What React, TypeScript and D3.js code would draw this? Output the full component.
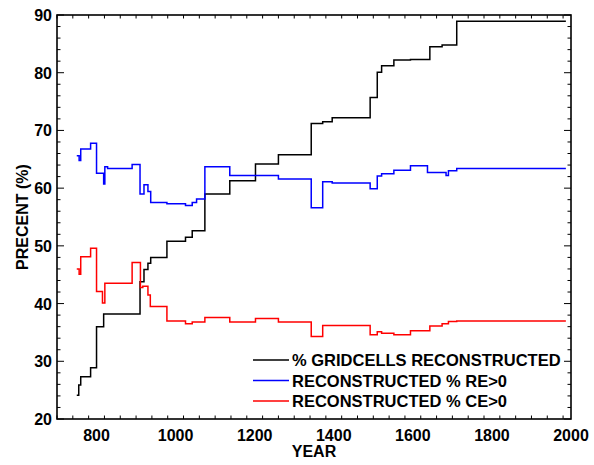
import React, { useEffect, useRef } from 'react';
import * as d3 from 'd3';

// step series: [year, percent], each value holds until the next year
const gridcells: [number, number][] = [
  [750, 24.1], [755, 25.9], [760, 27.3], [785, 28.9], [800, 36.0], [818, 38.2],
  [910, 43.8], [920, 45.9], [930, 47.0], [937, 48.0], [978, 50.8], [1025, 51.5],
  [1042, 52.6], [1074, 59.0], [1137, 61.3], [1202, 64.2], [1260, 65.8], [1343, 71.2],
  [1372, 71.5], [1396, 72.2], [1492, 75.7], [1510, 80.1], [1521, 81.2], [1552, 82.2],
  [1594, 82.3], [1643, 84.5], [1674, 84.8], [1711, 88.9], [1987, 88.9],
];

const reSkill: [number, number][] = [
  [750, 65.6], [756, 64.8], [760, 66.8], [785, 67.8], [800, 62.6], [818, 60.7],
  [821, 63.7], [828, 63.4], [890, 64.1], [910, 59.0], [920, 60.6], [930, 59.4],
  [937, 57.5], [978, 57.3], [1025, 57.0], [1042, 57.5], [1053, 58.1], [1074, 63.7],
  [1137, 62.2], [1260, 61.6], [1343, 56.6], [1372, 61.1], [1396, 60.9], [1492, 59.9],
  [1510, 62.1], [1521, 62.5], [1552, 63.1], [1594, 63.9], [1637, 62.7], [1684, 62.2],
  [1690, 63.0], [1711, 63.4], [1987, 63.4],
];

const ceSkill: [number, number][] = [
  [750, 46.0], [756, 45.1], [760, 48.1], [785, 49.6], [800, 42.1], [815, 40.1],
  [821, 43.5], [890, 47.1], [911, 42.8], [917, 43.0], [930, 41.5], [936, 39.5],
  [978, 37.0], [1025, 36.5], [1042, 36.8], [1074, 37.6], [1137, 36.8], [1202, 37.4],
  [1260, 36.8], [1343, 34.3], [1372, 36.2], [1492, 34.6], [1510, 35.1], [1521, 34.85],
  [1552, 34.6], [1594, 35.3], [1643, 36.1], [1674, 36.5], [1690, 36.9], [1711, 37.0],
  [1987, 37.0],
];

const seriesNames = ['% GRIDCELLS RECONSTRUCTED', 'RECONSTRUCTED % RE>0', 'RECONSTRUCTED % CE>0'];
const seriesColors = ['#000000', '#0000ff', '#ff0000'];
const xTickLabels = [800, 1000, 1200, 1400, 1600, 1800, 2000];
const yTickLabels = [20, 30, 40, 50, 60, 70, 80, 90];

const App = () => {
  const svgRef = useRef<SVGSVGElement>(null);

  useEffect(() => {
    const width = 594;
    const height = 465;
    const margin = { top: 15, right: 23, bottom: 46, left: 57 };
    const font = 'Liberation Sans, Arial, sans-serif';

    const svg = d3.select(svgRef.current)
      .attr('width', width)
      .attr('height', height);
    svg.selectAll('*').remove();

    const x = d3.scaleLinear().domain([700, 2000]).range([margin.left, width - margin.right]);
    const y = d3.scaleLinear().domain([20, 90]).range([height - margin.bottom, margin.top]);
    const [x0, x1] = x.range();
    const [y0, y1] = y.range();

    const minorX = d3.range(700, 2001, 40);
    const minorY = d3.range(20, 91, 2);

    const ticks = svg.append('g').attr('stroke', '#000').attr('stroke-width', 1);
    // bottom and top ticks, pointing inward
    minorX.forEach(v => {
      const len = v % 200 === 0 ? 7 : 3.5;
      ticks.append('line').attr('x1', x(v)).attr('x2', x(v)).attr('y1', y0).attr('y2', y0 - len);
      ticks.append('line').attr('x1', x(v)).attr('x2', x(v)).attr('y1', y1).attr('y2', y1 + len);
    });
    minorY.forEach(v => {
      const len = v % 10 === 0 ? 7 : 3.5;
      ticks.append('line').attr('x1', x0).attr('x2', x0 + len).attr('y1', y(v)).attr('y2', y(v));
      ticks.append('line').attr('x1', x1).attr('x2', x1 - len).attr('y1', y(v)).attr('y2', y(v));
    });

    svg.append('rect')
      .attr('x', x0).attr('y', y1)
      .attr('width', x1 - x0).attr('height', y0 - y1)
      .attr('fill', 'none').attr('stroke', '#000').attr('stroke-width', 1.6);

    svg.append('g').selectAll('text')
      .data(xTickLabels)
      .join('text')
      .attr('x', d => x(d))
      .attr('y', y0 + 22)
      .attr('text-anchor', 'middle')
      .style('font-family', font).style('font-weight', 'bold').style('font-size', '16px')
      .text(d => d);

    svg.append('g').selectAll('text')
      .data(yTickLabels)
      .join('text')
      .attr('x', x0 - 5)
      .attr('y', d => y(d) + 6)
      .attr('text-anchor', 'end')
      .style('font-family', font).style('font-weight', 'bold').style('font-size', '16px')
      .text(d => d);

    svg.append('text')
      .attr('x', (x0 + x1) / 2)
      .attr('y', y0 + 38)
      .attr('text-anchor', 'middle')
      .style('font-family', font).style('font-weight', 'bold').style('font-size', '16px')
      .text('YEAR');

    svg.append('text')
      .attr('transform', `translate(28, ${(y0 + y1) / 2}) rotate(-90)`)
      .attr('text-anchor', 'middle')
      .style('font-family', font).style('font-weight', 'bold').style('font-size', '16px')
      .text('PRECENT (%)');

    const line = d3.line<[number, number]>()
      .x(d => x(d[0]))
      .y(d => y(d[1]))
      .curve(d3.curveStepAfter);

    [gridcells, reSkill, ceSkill].forEach((s, i) => {
      svg.append('path')
        .datum(s)
        .attr('d', line)
        .attr('fill', 'none')
        .attr('stroke', seriesColors[i])
        .attr('stroke-width', 1.5);
    });

    const legend = svg.append('g');
    seriesNames.forEach((name, i) => {
      const ly = 360 + i * 20.5;
      legend.append('line')
        .attr('x1', 253).attr('x2', 289)
        .attr('y1', ly).attr('y2', ly)
        .attr('stroke', seriesColors[i]).attr('stroke-width', 1.5);
      legend.append('text')
        .attr('x', 292)
        .attr('y', ly + 6)
        .style('font-family', font).style('font-weight', 'bold').style('font-size', '16.5px')
        .text(name);
    });
  }, []);

  return <svg ref={svgRef} style={{ position: 'absolute', left: 0, top: 0 }}></svg>;
};

export default App;
